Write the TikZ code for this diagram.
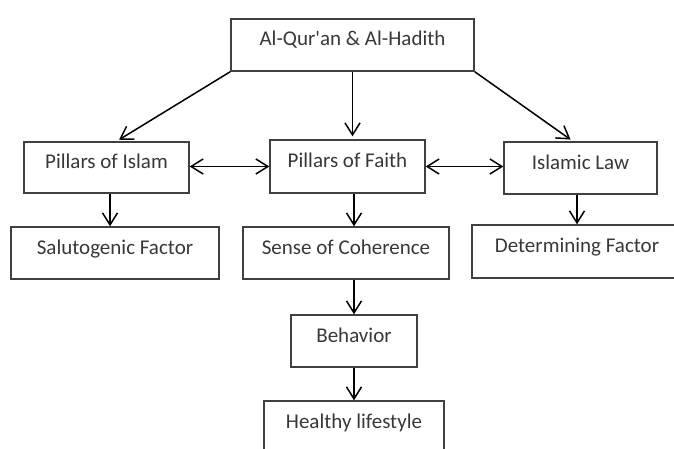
\documentclass[tikz,border=0pt]{standalone}
\usepackage{fontspec}
\setmainfont{Carlito}
\usetikzlibrary{arrows.meta}

\begin{document}
\begin{tikzpicture}[
            x=1pt, y=1pt,
            every node/.style={
              draw=black!75,
              line width=1.4pt,
              rectangle,
              inner sep=0pt,
              minimum height=52pt,
              text=black!78,
              font=\fontsize{21}{25}\selectfont,
              text height=12pt,
              text depth=10pt,
            },
            line width=1.5pt,
            >={Straight Barb[length=12pt,width=15pt]},
          ]
          \useasboundingbox (0,0) rectangle (674,448);
          \node[minimum width=243pt] at (352.5,403) (quran) {Al-Qur\textquotesingle an \& Al-Hadith} ;
          \node[minimum width=165pt, minimum height=51pt] at (106.5,280.5) (islam) {Pillars of Islam} ;
          \node[minimum width=155pt, minimum height=53pt] at (347.5,281.5) (faith) {Pillars of Faith} ;
          \node[minimum width=153pt] at (580.5,280) (law) {Islamic Law} ;
          \node[minimum width=208pt] at (115,195) (saluto) {Salutogenic Factor} ;
          \node[minimum width=206pt] at (346,195) (coher) {Sense of Coherence} ;
          \node[minimum width=210pt, minimum height=53pt] at (577,196.5) (determ) {Determining Factor} ;
          \node[minimum width=126pt] at (354,107) (behav) {Behavior} ;
          \node[minimum width=180pt] at (354,21) (healthy) {Healthy lifestyle} ;
          \draw[->, shorten >=3pt] (quran.south west)--([xshift=10pt]islam.north) ;
          \draw[->, shorten >=3pt] (quran.south)--(quran.south |- faith.north) ;
          \draw[->, shorten >=3pt] (quran.south east)--([xshift=-7.5pt]law.north) ;
          \draw[<->] (islam.east |- faith)--(faith.west) ;
          \draw[<->] (faith.east)--(faith.east -| law.west) ;
          \draw[->] ([xshift=3.5pt]islam.south)--([xshift=-5pt]saluto.north) ;
          \draw[->] (faith.south -| behav)--(coher.north -| behav) ;
          \draw[->] (law.south -| determ)--(determ.north) ;
          \draw[->] (coher.south -| behav)--(behav.north) ;
          \draw[->] (behav)--(healthy) ;
          \end{tikzpicture}
\end{document}
